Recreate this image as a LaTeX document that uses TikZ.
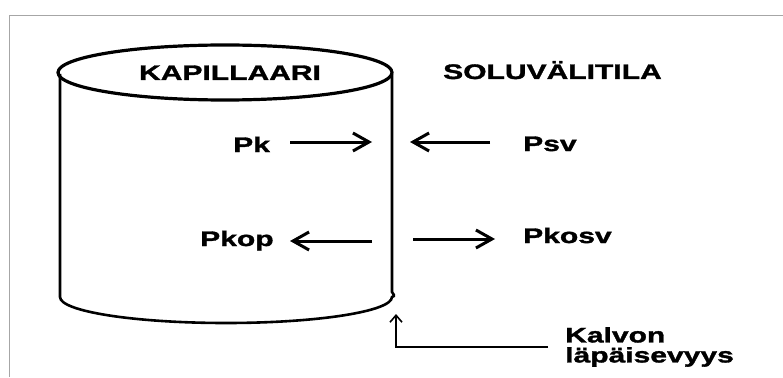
\documentclass[tikz,border=0pt]{standalone}
\usepackage{fontspec}
\newfontfamily\labfont{Liberation Sans}[FakeStretch=1.43, BoldFeatures={FakeBold=1.6}]
\usetikzlibrary{arrows.meta}
\begin{document}
\begin{tikzpicture}[x=1pt,y=-1pt,
  lab/.style={inner sep=0pt, font=\labfont\bfseries\fontsize{21}{20}\selectfont},
  flow/.style={line width=3pt, -{Straight Barb[length=16pt,width=18pt,line width=3pt]}},
  pointer/.style={line width=1.8pt, -{Straight Barb[length=7pt,width=12pt,line width=1.6pt]}}]
\useasboundingbox (0,0) rectangle (783,377);
\draw[gray!70, line width=0.9pt] (9,377) -- (9,15) -- (783,15);

\draw[line width=3.2pt] (225,72.5) ellipse[x radius=167, y radius=27.5];
\draw[line width=2.6pt] (60,74) -- (60,297) arc[start angle=180, end angle=0, x radius=166, y radius=26]
  .. controls (396,296) and (393,294) .. (392,292) -- (392,74);

\node[lab, anchor=base] (kap) at (230,80) {KAPILLAARI};
\node[lab, anchor=base west] (sol) at (443,79) {SOLUVÄLITILA};

\node[lab, anchor=base west] (pk) at (233,152) {Pk};
\node[lab, anchor=base west] (psv) at (523,151) {Psv};
\node[lab, anchor=base west] (pkop) at (200,246) {Pkop};
\node[lab, anchor=base west] (pkosv) at (523,243) {Pkosv};
\node[lab, anchor=north west, align=left] (kalvo) at (565,327) {Kalvon\\läpäisevyys};

\coordinate (pkS) at (290,142);
\coordinate (pkE) at (372,142);
\coordinate (psvS) at (490,142);
\coordinate (psvE) at (410,142);
\coordinate (pkopS) at (372,241);
\coordinate (pkopE) at (290,241);
\coordinate (pkosvS) at (413,239);
\coordinate (pkosvE) at (495,239);
\coordinate (memb) at (396,314);

\draw[flow] (pkS) -- (pkE);
\draw[flow] (psvS) -- (psvE);
\draw[flow] (pkopS) -- (pkopE);
\draw[flow] (pkosvS) -- (pkosvE);
\draw[pointer] ([xshift=-17pt]kalvo.west) -| (memb);
\end{tikzpicture}
\end{document}
